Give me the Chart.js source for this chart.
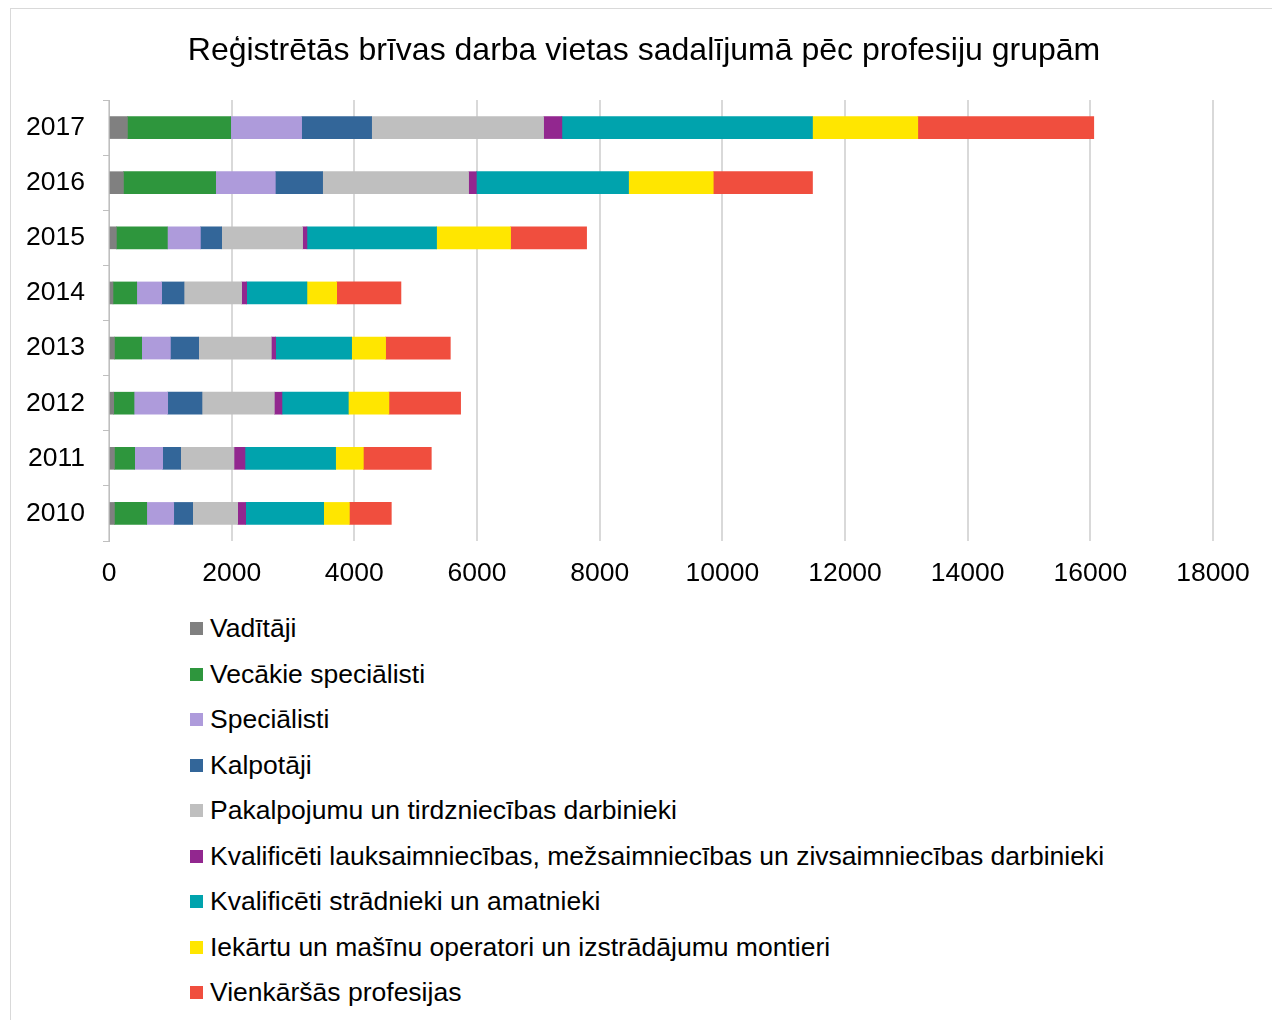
<!DOCTYPE html>
<html>
<head>
<meta charset="utf-8">
<script src="https://cdn.jsdelivr.net/npm/chart.js@4"></script>
<style>
  body { margin: 0; background: #fff; font-family: "Liberation Sans", Arial, sans-serif; }
  #frame { position: absolute; left: 10px; top: 8px; width: 1290px; height: 1040px; border: 1px solid #d9d9d9; }
  #wrap { position: absolute; left: 0; top: 0; width: 1272px; height: 600px; }
  #legend { position: absolute; left: 190px; top: 606px; list-style: none; margin: 0; padding: 0; }
  #legend li { height: 45.5px; display: flex; align-items: center; font-size: 26.5px; color: #000; white-space: nowrap; }
  #legend .box { display: inline-block; width: 13px; height: 13px; margin-right: 7px; }
</style>
</head>
<body>
<div id="frame"></div>
<div id="wrap"><canvas id="chart" width="1272" height="600"></canvas></div>
<ul id="legend"></ul>
<script>
const years = ["2017", "2016", "2015", "2014", "2013", "2012", "2011", "2010"];

// vērtības pa profesiju grupām (no augšas uz leju: 2017 ... 2010)
const vaditaji     = [300, 235, 120, 65, 88, 77, 88, 88];
const vecakieSpec  = [1684, 1504, 832, 387, 445, 331, 331, 527];
const specialisti  = [1157, 973, 538, 407, 468, 549, 456, 440];
const kalpotaji    = [1141, 771, 347, 364, 461, 559, 294, 309];
const pakalpojumu  = [2804, 2380, 1320, 940, 1185, 1180, 869, 734];
const lauksaimn    = [298, 126, 70, 82, 70, 124, 179, 130];
const stradnieki   = [4086, 2482, 2114, 982, 1239, 1082, 1478, 1272];
const operatori    = [1717, 1381, 1207, 485, 554, 662, 452, 419];
const vienkarsas   = [2869, 1618, 1239, 1048, 1055, 1169, 1108, 684];

const groupNames = [
  "Vadītāji",
  "Vecākie speciālisti",
  "Speciālisti",
  "Kalpotāji",
  "Pakalpojumu un tirdzniecības darbinieki",
  "Kvalificēti lauksaimniecības, mežsaimniecības un zivsaimniecības darbinieki",
  "Kvalificēti strādnieki un amatnieki",
  "Iekārtu un mašīnu operatori un izstrādājumu montieri",
  "Vienkāršās profesijas"
];
const groupValues = [vaditaji, vecakieSpec, specialisti, kalpotaji, pakalpojumu, lauksaimn, stradnieki, operatori, vienkarsas];
const colors = ["#808080", "#2e963d", "#ae9bdb", "#336699", "#bfbfbf", "#92278f", "#00a3ad", "#ffe600", "#f04e3e"];

const xTicks = [0, 2000, 4000, 6000, 8000, 10000, 12000, 14000, 16000, 18000];
const titleText = "Reģistrētās brīvas darba vietas sadalījumā pēc profesiju grupām";
const fontFamily = '"Liberation Sans", Arial, sans-serif';

Chart.defaults.font.family = fontFamily;
Chart.defaults.color = "#000";

// virsraksts centrēts pa visu rāmi
const titlePlugin = {
  id: "frameTitle",
  afterDraw(chart) {
    const c = chart.ctx;
    c.save();
    c.font = "32px " + fontFamily;
    c.fillStyle = "#000";
    c.textAlign = "center";
    c.textBaseline = "middle";
    c.fillText(titleText, 644, 51);
    c.restore();
  }
};

const ctx = document.getElementById("chart").getContext("2d");
const chart = new Chart(ctx, {
  type: "bar",
  data: {
    labels: years,
    datasets: groupNames.map((name, i) => ({
      label: name,
      data: groupValues[i],
      backgroundColor: colors[i],
      barThickness: 22,
      borderWidth: 0
    }))
  },
  options: {
    indexAxis: "y",
    responsive: false,
    animation: false,
    layout: { padding: { left: 11, right: 59, top: 100, bottom: 0 } },
    plugins: {
      legend: { display: false },
      tooltip: { enabled: false },
      title: { display: false }
    },
    scales: {
      x: {
        stacked: true,
        min: 0,
        max: 18000,
        afterBuildTicks: (scale) => { scale.ticks = xTicks.map((v) => ({ value: v })); },
        afterFit: (scale) => { scale.height = 59; },
        grid: { color: "#d9d9d9", lineWidth: 2, drawTicks: false },
        border: { display: false },
        ticks: { font: { size: 26.5 }, color: "#000", padding: 17, maxRotation: 0, callback: (v) => String(v) }
      },
      y: {
        stacked: true,
        afterFit: (scale) => { scale.width = 98; },
        grid: { drawOnChartArea: false, offset: true, tickLength: 6, color: "#bfbfbf", lineWidth: 1 },
        border: { display: true, color: "#bfbfbf", width: 1 },
        ticks: { font: { size: 26.5 }, color: "#000", padding: 18 }
      }
    }
  },
  plugins: [titlePlugin]
});

// leģenda
const legendEl = document.getElementById("legend");
legendEl.innerHTML = chart.data.datasets
  .map((ds) => `<li><span class="box" style="background:${ds.backgroundColor}"></span>${ds.label}</li>`)
  .join("");
</script>
</body>
</html>
